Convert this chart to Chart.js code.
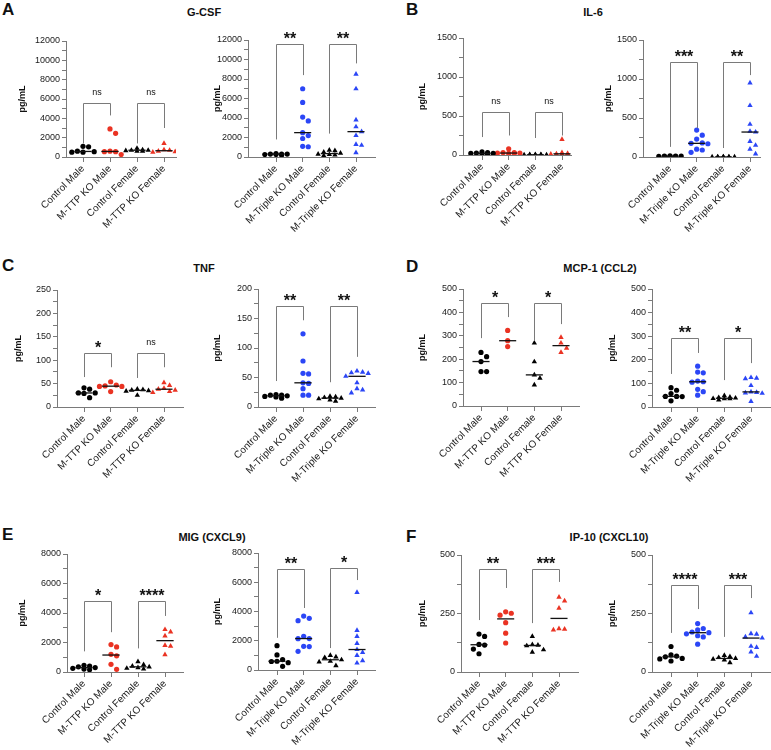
<!DOCTYPE html>
<html lang="en">
<head>
<meta charset="UTF-8">
<title>Serum cytokines</title>
<script src="https://cdn.jsdelivr.net/npm/chart.js"></script>
<style>
  body { margin: 0; background: #fff; }
  #fig { position: relative; width: 771px; height: 750px; font-family: "Liberation Sans", Arial, sans-serif; color: #111; }
  #fig canvas { position: absolute; }
  .letter { position: absolute; font-weight: bold; font-size: 17px; line-height: 17px; }
  .title { position: absolute; font-weight: bold; font-size: 11px; line-height: 11px; white-space: nowrap; transform: translateX(-50%); }
</style>
</head>
<body>
<div id="fig">
  <div class="letter" style="left:2px;top:1px">A</div>
  <div class="letter" style="left:406px;top:1px">B</div>
  <div class="letter" style="left:2px;top:257px">C</div>
  <div class="letter" style="left:406px;top:258px">D</div>
  <div class="letter" style="left:2px;top:526px">E</div>
  <div class="letter" style="left:406px;top:528px">F</div>
  <div class="title" style="left:204px;top:7px">G-CSF</div>
  <div class="title" style="left:593px;top:7px">IL-6</div>
  <div class="title" style="left:204px;top:263px">TNF</div>
  <div class="title" style="left:600px;top:263px">MCP-1 (CCL2)</div>
  <div class="title" style="left:212px;top:532px">MIG (CXCL9)</div>
  <div class="title" style="left:609px;top:532px">IP-10 (CXCL10)</div>
</div>
<script>
// groups on the x axis
const groupsTTP = ['Control Male', 'M-TTP KO Male', 'Control Female', 'M-TTP KO Female'];
const groupsTriple = ['Control Male', 'M-Triple KO Male', 'Control Female', 'M-Triple KO Female'];

// pg/mL per mouse, one list per group
const gcsfTtp = [[1100, 1050, 600, 550, 500, 500], [2900, 2450, 600, 550, 550, 250], [900, 750, 700, 700, 650, 600, 600], [1400, 750, 700, 600, 550, 500]];
const gcsfTriple = [[350, 300, 300, 300, 250, 250, 200], [7000, 5600, 4100, 3700, 2500, 2200, 1900, 1100, 1050], [700, 650, 500, 400, 300, 250, 200, 150], [8500, 7000, 3800, 3100, 2600, 2200, 1300, 1200, 450]];
const il6Ttp = [[40, 30, 25, 20, 20, 15, 10], [80, 30, 30, 25, 25, 20, 20], [5, 5, 4, 3, 3, 2, 2, 1], [200, 30, 20, 15, 10, 10, 10]];
const il6Triple = [[15, 12, 10, 10, 8, 6, 5, 5], [345, 280, 230, 180, 175, 170, 100, 90, 60], [3, 2, 2, 1, 1, 1, 0, 0], [950, 660, 420, 330, 320, 200, 150, 100, 40]];
const tnfTtp = [[41, 38, 30, 30, 29, 20], [54, 47, 45, 44, 44, 33], [38, 37, 36, 35, 34, 25], [52, 46, 40, 38, 36, 33, 31]];
const tnfTriple = [[21, 20, 20, 19, 18, 17, 15], [124, 78, 57, 56, 41, 40, 31, 20, 20], [18, 17, 16, 15, 14, 12, 10], [61, 59, 58, 57, 52, 41, 31, 29, 24]];
const mcp1Ttp = [[229, 211, 190, 147, 147], [323, 279, 254], [269, 189, 133, 119, 90], [293, 269, 247, 229]];
const mcp1Triple = [[82, 71, 57, 45, 45, 44, 26], [173, 148, 145, 110, 107, 105, 75, 65, 50], [48, 42, 40, 38, 36, 35, 35, 30], [125, 122, 120, 91, 64, 62, 60, 58, 24]];
const migTtp = [[450, 400, 350, 300, 250, 200, 150], [1860, 1700, 1200, 1100, 520, 180], [700, 500, 400, 350, 300, 250, 200], [2880, 2720, 2450, 1800, 1750, 1180]];
const migTriple = [[1660, 1030, 710, 600, 580, 500, 250], [3690, 3530, 3370, 2300, 2150, 2140, 1620, 1600, 1280], [1000, 900, 850, 700, 600, 550, 300], [5310, 2710, 2300, 1820, 1400, 1200, 1000, 640, 480]];
const ip10Ttp = [[162, 152, 118, 115, 98, 78], [257, 251, 243, 211, 166, 124], [152, 117, 115, 112, 95, 85], [320, 304, 273, 185, 183, 180]];
const ip10Triple = [[109, 73, 68, 65, 58, 56, 47], [207, 186, 180, 171, 168, 163, 155, 150, 119], [71, 66, 62, 58, 55, 52, 40], [253, 164, 162, 150, 145, 110, 105, 86, 67]];

// y axis: max, labelled step, minor tick step
const yMaxes = [12000, 12000, 1500, 1500, 250, 200, 500, 500, 8000, 8000, 500, 500];
const yMajor = [2000, 2000, 500, 500, 50, 50, 100, 100, 2000, 2000, 250, 250];
const yMinor = [1000, 1000, 250, 250, 25, 25, 50, 50, 1000, 1000, 125, 125];

// significance brackets: label, height, leg ends (left, right) for the male and female pair
const sigLabels = [['ns', 'ns'], ['**', '**'], ['ns', 'ns'], ['***', '**'], ['*', 'ns'], ['**', '**'], ['*', '*'], ['**', '*'], ['*', '****'], ['**', '*'], ['**', '***'], ['****', '***']];
const bracketTops = [[5600, 5600], [11600, 11600], [550, 550], [1220, 1220], [115, 115], [171, 171], [440, 440], [292, 292], [4800, 4800], [6900, 7000], [440, 440], [372, 372]];
const bracketLegs = [
  [[1400, 4300], [1400, 3000]], [[1800, 8400], [2400, 9600]],
  [[230, 250], [218, 250]], [[130, 370], [115, 1050]],
  [[64, 85], [62, 85]], [[44, 147], [42, 85]],
  [[290, 380], [282, 350]], [[140, 229], [114, 186]],
  [[1400, 2700], [1600, 3800]], [[2200, 4240], [1500, 6150]],
  [[222, 359], [209, 385]], [[167, 269], [150, 316]]
];

// page layout of each panel: y axis x, top y, zero y, first/last category x, axis end x, gap to y title
const layout = [
  [66, 41, 157, 83, 164, 176, 44], [248, 40, 157, 276, 356, 375, 31],
  [463, 38, 155, 482, 562, 571, 41], [643, 40, 157, 670, 750, 760, 35],
  [57, 290, 407, 84, 164, 183, 39], [258, 289, 407, 276, 357, 375, 41],
  [463, 289, 406, 481, 561, 579, 41], [652, 289, 407, 671, 751, 770, 40],
  [67, 554, 672, 84, 165, 183, 45], [258, 553, 670, 277, 357, 375, 41],
  [461, 555, 672, 479, 559, 578, 39], [652, 555, 672, 671, 751, 770, 40]
];

const RED = '#ea3323';
const BLUE = '#2b46f6';
const AXIS = '#7a7a7a';
const FONT = '"Liberation Sans", Arial, sans-serif';

function median(a) {
  const s = [...a].sort((p, q) => p - q);
  const m = Math.floor(s.length / 2);
  return s.length % 2 ? s[m] : (s[m - 1] + s[m]) / 2;
}

// spread points sideways where they would overlap (column scatter)
function spread(vals, pxY, pxX) {
  const order = vals.map((v, k) => k).sort((a, b) => vals[b] - vals[a]);
  const placed = [];
  const out = new Array(vals.length);
  const d = 5.6;
  const slots = [0, 1, -1, 2, -2];
  order.forEach(k => {
    const y = vals[k] * pxY;
    let best = 0, bestGap = -1;
    for (const s of slots) {
      const x = s * d;
      let gap = Infinity;
      placed.forEach(p => { gap = Math.min(gap, Math.hypot(p.x - x, p.y - y)); });
      if (gap >= d) { best = x; break; }
      if (gap > bestGap) { bestGap = gap; best = x; }
    }
    placed.push({ x: best, y });
    out[k] = best / pxX;
  });
  return out;
}

const bracketPlugin = {
  id: 'brackets',
  afterDatasetsDraw(chart, args, opts) {
    const { ctx, scales: { x, y } } = chart;
    ctx.save();
    opts.items.forEach(b => {
      const x0 = Math.round(x.getPixelForValue(b.from)) + 0.5;
      const x1 = Math.round(x.getPixelForValue(b.to)) + 0.5;
      const yt = Math.round(y.getPixelForValue(b.top)) + 0.5;
      ctx.strokeStyle = AXIS;
      ctx.lineWidth = 1;
      ctx.beginPath();
      ctx.moveTo(x0, y.getPixelForValue(b.legs[0]));
      ctx.lineTo(x0, yt);
      ctx.lineTo(x1, yt);
      ctx.lineTo(x1, y.getPixelForValue(b.legs[1]));
      ctx.stroke();
      ctx.fillStyle = '#111';
      ctx.textAlign = 'center';
      ctx.textBaseline = 'alphabetic';
      if (b.label === 'ns') {
        ctx.font = '9px ' + FONT;
        ctx.fillText('ns', (x0 + x1) / 2, yt - 9);
      } else {
        ctx.font = 'bold 16px ' + FONT;
        ctx.fillText(b.label, (x0 + x1) / 2, yt - 1);
      }
    });
    ctx.restore();
  }
};

function makePanel(i, values, groups, color) {
  const [ax, top, zero, c0, c3, endX, gap] = layout[i];
  const sp = (c3 - c0) / 3;
  const xMin = -(c0 - ax) / sp;
  const xMax = 3 + (endX - c3) / sp;
  const yW = Math.round(gap + 9.4);
  const padTop = 26, xH = 95, padR = 4;
  const plotW = endX - ax, plotH = zero - top;
  const pxY = plotH / yMaxes[i];

  const canvas = document.createElement('canvas');
  const cw = yW + plotW + padR, ch = padTop + plotH + xH;
  canvas.width = cw; canvas.height = ch;
  canvas.style.width = cw + 'px'; canvas.style.height = ch + 'px';
  canvas.style.left = (ax - yW) + 'px';
  canvas.style.top = (top - padTop) + 'px';
  document.getElementById('fig').appendChild(canvas);

  const datasets = [];
  values.forEach((vals, g) => {
    const m = median(vals);
    datasets.push({
      type: 'line',
      data: [{ x: g - 0.32, y: m }, { x: g + 0.32, y: m }],
      borderColor: '#111', borderWidth: 1.3, pointRadius: 0
    });
  });
  values.forEach((vals, g) => {
    const offs = spread(vals, pxY, sp);
    const tri = g >= 2;
    const c = g % 2 ? color : '#000';
    datasets.push({
      type: 'scatter',
      data: vals.map((v, k) => ({ x: g + offs[k], y: v })),
      pointStyle: tri ? 'triangle' : 'circle',
      pointRadius: tri ? 3.1 : 2.6,
      backgroundColor: c, borderColor: c, borderWidth: 0
    });
  });

  const items = [0, 1].map(p => ({
    from: p * 2, to: p * 2 + 1,
    top: bracketTops[i][p], legs: bracketLegs[i][p], label: sigLabels[i][p]
  }));

  new Chart(canvas, {
    type: 'scatter',
    data: { datasets },
    plugins: [bracketPlugin],
    options: {
      responsive: false,
      animation: false,
      events: [],
      layout: { padding: { top: padTop, right: padR, left: 0, bottom: 0 }, autoPadding: false },
      plugins: { legend: { display: false }, tooltip: { enabled: false }, brackets: { items } },
      scales: {
        x: {
          type: 'linear', min: xMin, max: xMax,
          afterBuildTicks: s => { s.ticks = [0, 1, 2, 3].map(v => ({ value: v })); },
          afterFit: s => { s.height = xH; },
          ticks: {
            callback: v => groups[v],
            minRotation: 45, maxRotation: 45, autoSkip: false, padding: 1,
            color: '#1a1a1a', font: { family: FONT, size: 10 }
          },
          grid: { drawOnChartArea: false, drawTicks: true, tickLength: 5, color: AXIS },
          border: { display: true, color: AXIS, width: 1 }
        },
        y: {
          min: 0, max: yMaxes[i],
          afterFit: s => { s.width = yW; },
          ticks: {
            stepSize: yMinor[i], autoSkip: false, padding: 2,
            callback: v => (v % yMajor[i] === 0 ? v : ''),
            color: '#1a1a1a', font: { family: FONT, size: 9 }
          },
          grid: { drawOnChartArea: false, drawTicks: true, tickLength: 4, color: AXIS },
          border: { display: true, color: AXIS, width: 1 },
          title: { display: true, text: 'pg/mL', color: '#111', font: { family: FONT, size: 9, weight: 'bold' }, padding: { top: 4, bottom: 4 } }
        }
      }
    }
  });
}

makePanel(0, gcsfTtp, groupsTTP, RED);
makePanel(1, gcsfTriple, groupsTriple, BLUE);
makePanel(2, il6Ttp, groupsTTP, RED);
makePanel(3, il6Triple, groupsTriple, BLUE);
makePanel(4, tnfTtp, groupsTTP, RED);
makePanel(5, tnfTriple, groupsTriple, BLUE);
makePanel(6, mcp1Ttp, groupsTTP, RED);
makePanel(7, mcp1Triple, groupsTriple, BLUE);
makePanel(8, migTtp, groupsTTP, RED);
makePanel(9, migTriple, groupsTriple, BLUE);
makePanel(10, ip10Ttp, groupsTTP, RED);
makePanel(11, ip10Triple, groupsTriple, BLUE);
</script>
</body>
</html>
